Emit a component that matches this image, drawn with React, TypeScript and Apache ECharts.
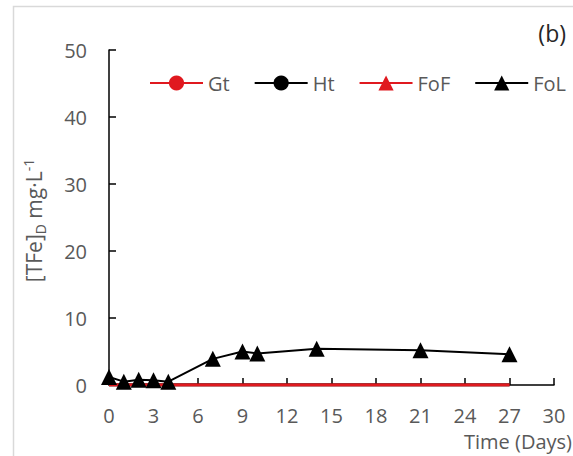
import React, { useEffect, useRef } from "react";
import * as echarts from "echarts";

const days = [0, 1, 2, 3, 4, 7, 9, 10, 14, 21, 27];
const gt = [0, 0, 0, 0, 0, 0, 0, 0, 0, 0, 0];
const ht = [0, 0, 0, 0, 0, 0, 0, 0, 0, 0, 0];
const fof = [0, 0, 0, 0, 0, 0, 0, 0, 0, 0, 0];
const fol = [1.2, 0.5, 0.8, 0.7, 0.5, 3.9, 5.0, 4.7, 5.4, 5.2, 4.6];
const seriesNames = ["Gt", "Ht", "FoF", "FoL"];
const panelLabel = "(b)";
const xTitle = "Time (Days)";

const FONT = "'Open Sans', 'Noto Sans', sans-serif";
const GRAY = "#595959";

export default function App() {
  const ref = useRef<HTMLDivElement>(null);
  useEffect(() => {
    if (!ref.current) return;
    const chart = echarts.init(ref.current, null, { renderer: "svg" });
    const pts = (ys: number[]) => days.map((d, i) => [d, ys[i]]);
    const zeroSeries = (name: string, ys: number[], color: string, symbol: string, z: number) => ({
      name,
      type: "line",
      data: pts(ys),
      symbol,
      symbolSize: 14,
      showSymbol: false,
      lineStyle: { color, width: 3 },
      itemStyle: { color },
      z,
    });
    chart.setOption({
      animation: false,
      textStyle: { fontFamily: FONT },
      grid: { left: 109, right: 19, top: 50, bottom: 71, containLabel: false },
      legend: {
        data: seriesNames,
        left: 149,
        top: 73,
        padding: 0,
        width: 430,
        itemWidth: 53,
        itemHeight: 19,
        itemGap: 24,
        textStyle: { color: GRAY, fontSize: 20, fontFamily: FONT },
      },
      graphic: [
        {
          type: "rect",
          shape: { x: 13.5, y: 6.5, width: 600, height: 500 },
          style: { fill: "none", stroke: "#d9d9d9", lineWidth: 1.5 },
          silent: true,
        },
        {
          type: "text",
          x: 566,
          y: 33,
          style: {
            text: panelLabel,
            fontSize: 23,
            fill: "#262626",
            fontFamily: FONT,
            align: "right",
            verticalAlign: "middle",
          },
        },
        {
          type: "text",
          x: 572,
          y: 441,
          style: {
            text: xTitle,
            fontSize: 20,
            fill: GRAY,
            fontFamily: FONT,
            align: "right",
            verticalAlign: "middle",
          },
        },
      ],
      xAxis: {
        type: "value",
        min: 0,
        max: 30,
        interval: 3,
        axisLine: { show: true, lineStyle: { color: "#000", width: 1.5 } },
        axisTick: { show: true, inside: true, length: 7, lineStyle: { color: "#000", width: 1.5 } },
        axisLabel: { color: GRAY, fontSize: 20, margin: 20, fontFamily: FONT },
        splitLine: { show: false },
      },
      yAxis: {
        type: "value",
        min: 0,
        max: 50,
        interval: 10,
        name: "{a|[TFe]}{sub|D}{a| mg·L}{sup|-1}",
        nameLocation: "middle",
        nameGap: 62,
        nameTextStyle: {
          padding: [0, 6, 0, 0],
          rich: {
            a: { fontSize: 21, color: GRAY, fontFamily: FONT, lineHeight: 26, verticalAlign: "middle" },
            sub: { fontSize: 14, color: GRAY, fontFamily: FONT, lineHeight: 26, verticalAlign: "bottom", padding: [9, 0, 0, 0] },
            sup: { fontSize: 14, color: GRAY, fontFamily: FONT, lineHeight: 26, verticalAlign: "top", padding: [0, 0, 9, 0] },
          },
        },
        axisLine: { show: true, lineStyle: { color: "#000", width: 1.5 } },
        axisTick: { show: true, inside: true, length: 7, lineStyle: { color: "#000", width: 1.5 } },
        axisLabel: { color: GRAY, fontSize: 20, margin: 22, fontFamily: FONT },
        splitLine: { show: false },
      },
      series: [
        zeroSeries("Gt", gt, "#e0191f", "circle", 2),
        zeroSeries("Ht", ht, "#000000", "circle", 3),
        zeroSeries("FoF", fof, "#e0191f", "triangle", 4),
        {
          name: "FoL",
          type: "line",
          data: pts(fol),
          symbol: "triangle",
          symbolSize: 16,
          lineStyle: { color: "#000", width: 2 },
          itemStyle: { color: "#000" },
          z: 5,
        },
      ],
    });
    return () => chart.dispose();
  }, []);
  return (
    <div
      ref={ref}
      style={{ position: "fixed", left: 0, top: 0, width: 573, height: 456, background: "#fff" }}
    />
  );
}
